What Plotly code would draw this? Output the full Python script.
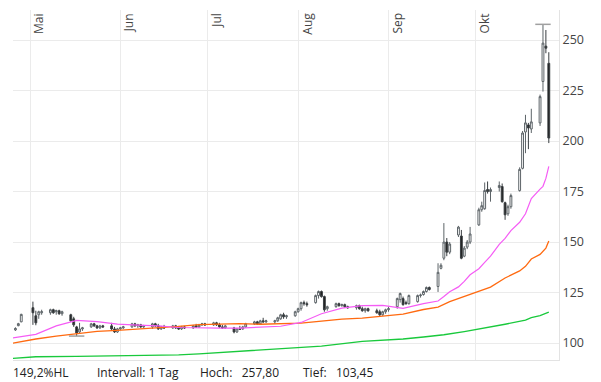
import plotly.graph_objects as go

# ---------------- data ----------------
dates = [
    "2023-04-26", "2023-04-27", "2023-04-28",
    "2023-05-02", "2023-05-03", "2023-05-04", "2023-05-05",
    "2023-05-08", "2023-05-09", "2023-05-10", "2023-05-11", "2023-05-12",
    "2023-05-15", "2023-05-16", "2023-05-17", "2023-05-18", "2023-05-19",
    "2023-05-22", "2023-05-23", "2023-05-24", "2023-05-25", "2023-05-26",
    "2023-05-29", "2023-05-30", "2023-05-31", "2023-06-01", "2023-06-02",
    "2023-06-05", "2023-06-06", "2023-06-07", "2023-06-08", "2023-06-09",
    "2023-06-12", "2023-06-13", "2023-06-14", "2023-06-15", "2023-06-16",
    "2023-06-19", "2023-06-20", "2023-06-21", "2023-06-22", "2023-06-23",
    "2023-06-26", "2023-06-27", "2023-06-28", "2023-06-29", "2023-06-30",
    "2023-07-03", "2023-07-04", "2023-07-05", "2023-07-06", "2023-07-07",
    "2023-07-10", "2023-07-11", "2023-07-12", "2023-07-13", "2023-07-14",
    "2023-07-17", "2023-07-18", "2023-07-19", "2023-07-20", "2023-07-21",
    "2023-07-24", "2023-07-25", "2023-07-26", "2023-07-27", "2023-07-28",
    "2023-07-31", "2023-08-01", "2023-08-02", "2023-08-03", "2023-08-04",
    "2023-08-07", "2023-08-08", "2023-08-09", "2023-08-10", "2023-08-11",
    "2023-08-14", "2023-08-15", "2023-08-16", "2023-08-17", "2023-08-18",
    "2023-08-21", "2023-08-22", "2023-08-23", "2023-08-24", "2023-08-25",
    "2023-08-28", "2023-08-29", "2023-08-30", "2023-08-31", "2023-09-01",
    "2023-09-04", "2023-09-05", "2023-09-06", "2023-09-07", "2023-09-08",
    "2023-09-11", "2023-09-12", "2023-09-13", "2023-09-14", "2023-09-15",
    "2023-09-18", "2023-09-19", "2023-09-20", "2023-09-21", "2023-09-22",
    "2023-09-25", "2023-09-26", "2023-09-27", "2023-09-28", "2023-09-29",
    "2023-10-02", "2023-10-03", "2023-10-04", "2023-10-05", "2023-10-06",
    "2023-10-09", "2023-10-10", "2023-10-11", "2023-10-12", "2023-10-13",
    "2023-10-16", "2023-10-17", "2023-10-18", "2023-10-19", "2023-10-20",
    "2023-10-23", "2023-10-24", "2023-10-25", "2023-10-26",
]

opens = [
    106.5, 108.6, 110.5,
    117.5, 113.5, 114.0, 115.0,
    115.0, 116.5, 115.5, 116.0, 114.5,
    114.0, 112.0, 108.0, 105.5, 107.0,
    108.0, 109.5, 108.5, 107.5, 108.5,
    108.5, 107.0, 105.5, 107.0, 107.5,
    108.0, 109.5, 108.5, 109.0, 108.0,
    108.0, 109.5, 108.5, 107.0, 108.0,
    107.5, 108.5, 107.5, 107.0, 108.0,
    107.5, 108.5, 108.0, 109.0, 109.5,
    109.0, 110.0, 109.0, 108.0, 107.5,
    107.5, 105.5, 107.0, 107.0, 108.0,
    109.5, 110.5, 109.5, 111.0, 110.5,
    110.5, 111.0, 112.0, 114.0, 113.0,
    113.5, 115.5, 117.0, 120.0, 119.5,
    120.0, 123.5, 125.5, 123.0, 117.0,
    118.0, 119.5, 118.5, 119.0, 118.0,
    117.5, 118.5, 117.0, 116.0, 117.0,
    116.0, 115.5, 114.0, 115.5, 116.5,
    118.0, 121.5, 122.0, 120.0, 119.5,
    120.5, 123.5, 124.0, 125.5, 127.5,
    128.0, 137.0, 142.0, 150.0, 145.0,
    153.5, 153.0, 143.0, 147.5, 150.0,
    158.5, 166.0, 166.5, 176.0, 175.0,
    177.0, 177.5, 169.5, 164.0, 167.5,
    175.5, 186.5, 204.5, 208.0, 206.0,
    209.0, 229.5, 247.0, 238.5,
]

highs = [
    107.8, 110.0, 114.5,
    120.5, 116.0, 116.0, 116.5,
    117.0, 117.0, 116.5, 116.5, 116.0,
    114.5, 113.0, 108.5, 110.0, 108.0,
    110.0, 110.0, 109.0, 109.0, 109.0,
    110.0, 108.0, 107.5, 108.0, 108.5,
    110.0, 110.0, 109.5, 109.5, 109.0,
    110.0, 110.0, 109.5, 108.5, 109.0,
    109.0, 109.0, 108.5, 108.5, 108.5,
    109.0, 109.5, 109.5, 110.0, 110.0,
    110.5, 110.5, 110.0, 109.0, 109.0,
    108.0, 107.5, 108.5, 108.5, 110.0,
    111.0, 111.0, 111.5, 112.5, 111.5,
    111.5, 113.0, 114.5, 115.0, 114.0,
    116.0, 117.5, 120.5, 121.0, 120.5,
    124.0, 126.0, 126.0, 123.5, 118.5,
    120.0, 120.0, 119.5, 119.5, 118.5,
    119.0, 119.0, 118.0, 117.5, 117.5,
    117.0, 116.5, 116.0, 117.0, 118.0,
    122.5, 125.0, 123.0, 121.0, 124.0,
    124.0, 124.5, 126.0, 128.0, 128.0,
    139.5, 139.5, 159.4, 152.0, 150.0,
    158.0, 156.0, 148.0, 151.0, 157.5,
    167.0, 170.0, 179.5, 180.0, 177.0,
    180.0, 179.0, 170.0, 168.5, 174.0,
    187.0, 205.0, 213.0, 209.0, 216.0,
    223.0, 257.8, 255.0, 244.0,
]

lows = [
    106.0, 108.3, 110.3,
    109.0, 108.8, 112.0, 114.0,
    114.0, 114.5, 114.0, 114.0, 113.5,
    110.5, 108.0, 103.45, 104.5, 106.0,
    107.5, 108.0, 107.0, 107.0, 107.5,
    106.0, 105.0, 105.0, 106.5, 107.0,
    107.5, 108.0, 107.5, 107.5, 107.5,
    107.0, 108.0, 106.5, 106.5, 107.0,
    107.0, 107.0, 106.5, 106.5, 107.0,
    107.0, 107.5, 107.5, 108.5, 108.5,
    108.5, 108.5, 107.5, 107.0, 107.0,
    104.8, 105.0, 106.5, 106.5, 107.5,
    109.0, 109.0, 109.0, 110.0, 110.0,
    109.5, 110.5, 111.5, 112.0, 112.0,
    113.0, 115.0, 116.0, 118.5, 118.0,
    119.5, 122.0, 122.5, 115.5, 116.0,
    117.5, 118.0, 118.0, 117.5, 117.0,
    116.5, 116.5, 115.5, 115.0, 115.5,
    114.5, 113.4, 113.5, 114.5, 115.5,
    117.0, 120.0, 118.5, 119.0, 119.0,
    120.0, 122.5, 123.5, 125.0, 126.0,
    125.3, 136.5, 141.0, 143.0, 144.0,
    152.5, 141.5, 142.5, 146.5, 149.0,
    158.0, 165.0, 166.0, 174.0, 170.0,
    175.0, 169.5, 161.0, 163.0, 166.5,
    175.0, 186.0, 194.0, 196.0, 204.0,
    207.5, 224.5, 243.5, 199.0,
]

closes = [
    107.2, 109.6, 114.2,
    115.0, 110.0, 115.5, 115.5,
    116.5, 115.0, 116.0, 114.5, 115.5,
    111.0, 109.0, 105.0, 107.0, 107.5,
    109.5, 108.5, 107.5, 108.5, 108.0,
    107.0, 105.5, 107.0, 107.5, 108.0,
    109.5, 108.5, 109.0, 108.0, 108.5,
    109.5, 108.5, 107.0, 108.0, 107.5,
    108.5, 107.5, 107.0, 108.0, 107.5,
    108.5, 108.0, 109.0, 109.5, 109.0,
    110.0, 109.0, 108.0, 107.5, 108.5,
    105.5, 107.0, 106.8, 108.0, 109.5,
    110.5, 109.5, 111.0, 110.5, 111.0,
    111.0, 112.5, 114.0, 113.0, 113.5,
    115.5, 117.0, 120.0, 119.5, 119.0,
    123.5, 125.5, 123.0, 116.5, 118.0,
    119.5, 118.5, 119.0, 118.0, 117.5,
    118.5, 117.0, 116.0, 117.0, 116.0,
    115.0, 114.0, 115.5, 116.5, 117.0,
    122.0, 124.5, 119.0, 119.5, 123.5,
    123.5, 123.8, 125.5, 127.5, 126.5,
    135.0, 138.5, 150.0, 145.0, 149.0,
    157.4, 142.0, 147.0, 150.0, 154.0,
    166.0, 168.0, 175.5, 175.0, 176.0,
    178.0, 170.0, 163.5, 167.5, 173.0,
    186.0, 204.0, 209.0, 206.5, 209.5,
    222.0, 248.5, 246.0, 201.5,
]

# moving averages
ma_fast_dates = [
    "2023-04-25", "2023-05-03", "2023-05-10", "2023-05-17", "2023-05-24", "2023-05-31",
    "2023-06-07", "2023-06-14", "2023-06-21", "2023-06-28", "2023-07-05", "2023-07-12",
    "2023-07-19", "2023-07-26", "2023-08-02", "2023-08-09", "2023-08-16", "2023-08-23",
    "2023-08-30", "2023-09-06", "2023-09-13", "2023-09-18", "2023-09-20", "2023-09-22",
    "2023-09-25", "2023-09-27", "2023-09-29", "2023-10-02", "2023-10-04", "2023-10-06",
    "2023-10-09", "2023-10-11", "2023-10-13", "2023-10-16", "2023-10-18", "2023-10-20",
    "2023-10-23", "2023-10-24", "2023-10-25", "2023-10-26",
]
ma_fast = [
    102.5, 104.3, 108.5, 111.2, 110.6, 109.4,
    108.9, 108.5, 107.7, 107.4, 107.4, 107.4,
    107.8, 108.3, 110.2, 114.5, 117.3, 118.5,
    118.6, 117.2, 119.5, 120.8, 123.0, 125.4,
    127.8, 130.5, 133.8, 136.8, 139.9, 143.0,
    148.9, 151.8, 155.7, 159.8, 164.0, 171.5,
    176.2, 177.6, 181.5, 187.5,
]

ma_mid_dates = [
    "2023-04-25", "2023-05-03", "2023-05-10", "2023-05-17", "2023-05-24", "2023-05-31",
    "2023-06-07", "2023-06-14", "2023-06-21", "2023-06-28", "2023-07-05", "2023-07-12",
    "2023-07-19", "2023-07-26", "2023-08-02", "2023-08-09", "2023-08-16", "2023-08-23",
    "2023-08-30", "2023-09-06", "2023-09-13", "2023-09-18", "2023-09-22", "2023-09-27",
    "2023-10-02", "2023-10-06", "2023-10-11", "2023-10-16", "2023-10-18", "2023-10-20",
    "2023-10-23", "2023-10-25", "2023-10-26",
]
ma_mid = [
    99.9, 102.0, 103.4, 104.6, 105.8, 106.3,
    106.9, 107.5, 108.2, 109.1, 109.5, 109.6,
    109.3, 109.5, 109.9, 110.8, 111.8, 112.3,
    113.2, 114.3, 116.6, 117.8, 120.5, 123.0,
    125.4, 127.7, 132.2, 135.7, 138.0, 141.6,
    143.9, 147.0, 150.5,
]

ma_slow_dates = [
    "2023-04-25", "2023-05-03", "2023-05-17", "2023-05-31", "2023-06-21", "2023-06-28",
    "2023-07-12", "2023-07-26", "2023-08-09", "2023-08-23", "2023-09-06", "2023-09-13",
    "2023-09-20", "2023-09-27", "2023-10-04", "2023-10-11", "2023-10-18", "2023-10-20",
    "2023-10-23", "2023-10-26",
]
ma_slow = [
    92.4, 93.2, 93.4, 93.6, 94.1, 94.6,
    95.9, 96.9, 98.5, 100.8, 102.0, 103.0,
    104.1, 105.7, 107.4, 109.3, 111.3, 112.6,
    113.6, 115.3,
]

month_starts = ["2023-05-01", "2023-06-01", "2023-07-01", "2023-08-01", "2023-09-01", "2023-10-01"]
month_labels = ["Mai", "Jun", "Jul", "Aug", "Sep", "Okt"]
y_ticks = [100, 125, 150, 175, 200, 225, 250]
interval_text = "Intervall: 1 Tag"

# ---------------- figure ----------------
# The page body has an 8px default margin, so the figure is drawn at (8, 8).
OFF = 8
W, H = 601 - OFF, 382 - OFF
ML, MR, MT, MB = 13 - OFF, 42, 10 - OFF, 22
PW = W - ML - MR
PH = H - MT - MB


def px_to_paper_x(px):  # page pixel -> paper fraction
    return (px - OFF - ML) / PW


def px_to_paper_y(py):
    return (H - MB - (py - OFF)) / PH


hi = max(highs)
lo = min(lows)
hi_date = dates[highs.index(hi)]
lo_date = dates[lows.index(lo)]
hl_pct = (hi - lo) / lo * 100


def de(v, n=2):
    return f"{v:.{n}f}".replace(".", ",")


fig = go.Figure()

fig.add_trace(go.Candlestick(
    x=dates, open=opens, high=highs, low=lows, close=closes,
    increasing=dict(line=dict(color="#5d6468", width=1), fillcolor="#ffffff"),
    decreasing=dict(line=dict(color="#3a3f42", width=1), fillcolor="#1e1e1e"),
    whiskerwidth=0,
    showlegend=False, hoverinfo="skip",
))

fig.add_trace(go.Scatter(x=ma_slow_dates, y=ma_slow, mode="lines",
                         line=dict(color="#19c93c", width=1.3), showlegend=False, hoverinfo="skip"))
fig.add_trace(go.Scatter(x=ma_mid_dates, y=ma_mid, mode="lines",
                         line=dict(color="#ff6a10", width=1.3), showlegend=False, hoverinfo="skip"))
fig.add_trace(go.Scatter(x=ma_fast_dates, y=ma_fast, mode="lines",
                         line=dict(color="#f55cf5", width=1.2), showlegend=False, hoverinfo="skip"))

# high / low markers
fig.add_trace(go.Scatter(
    x=[hi_date, lo_date], y=[hi, lo], mode="markers",
    marker=dict(symbol="line-ew", size=11, line=dict(color="#a0a0a0", width=1.5)),
    showlegend=False, hoverinfo="skip",
))

annotations = []
for d, lab in zip(month_starts, month_labels):
    annotations.append(dict(
        x=d, xref="x", y=1, yref="paper", text=lab, showarrow=False,
        textangle=-90, xanchor="left", yanchor="top", xshift=-2, yshift=-1,
        font=dict(family="Open Sans", size=12, color="#444444"),
    ))

ann_font = dict(family="Open Sans", size=12, color="#222222")
ty = px_to_paper_y(372)
annotations += [
    dict(x=px_to_paper_x(11), y=ty, xref="paper", yref="paper", xanchor="left", yanchor="middle",
         text=f"{de(hl_pct, 1)}%HL", showarrow=False, font=ann_font),
    dict(x=px_to_paper_x(95), y=ty, xref="paper", yref="paper", xanchor="left", yanchor="middle",
         text=interval_text, showarrow=False, font=ann_font),
    dict(x=px_to_paper_x(198), y=ty, xref="paper", yref="paper", xanchor="left", yanchor="middle",
         text=f"Hoch:\u00a0\u00a0 {de(hi)}", showarrow=False, font=ann_font),
    dict(x=px_to_paper_x(301), y=ty, xref="paper", yref="paper", xanchor="left", yanchor="middle",
         text=f"Tief:\u00a0\u00a0 {de(lo)}", showarrow=False, font=ann_font),
]

grid = "#ebebeb"
fig.update_layout(
    width=W, height=H,
    margin=dict(l=ML, r=MR, t=MT, b=MB, pad=0),
    paper_bgcolor="white", plot_bgcolor="white",
    font=dict(family="Open Sans", size=12, color="#444444"),
    annotations=annotations,
    boxgap=0.1,
    xaxis=dict(
        type="date", range=["2023-04-25 04:00", "2023-10-29 12:00"],
        tickvals=month_starts, showticklabels=False, ticks="",
        showgrid=True, gridcolor=grid, gridwidth=1,
        showline=True, linecolor="#e3e3e3", linewidth=1,
        zeroline=False, rangeslider=dict(visible=False), fixedrange=True,
    ),
    yaxis=dict(
        side="right", range=[91.6, 264.9], tickvals=y_ticks,
        ticktext=[str(v) for v in y_ticks], ticks="",
        showgrid=True, gridcolor=grid, gridwidth=1,
        showline=True, linecolor="#e3e3e3", linewidth=1,
        zeroline=False, fixedrange=True,
        tickfont=dict(family="Open Sans", size=12.5, color="#444444"),
    ),
)

fig.write_html("out.html")
